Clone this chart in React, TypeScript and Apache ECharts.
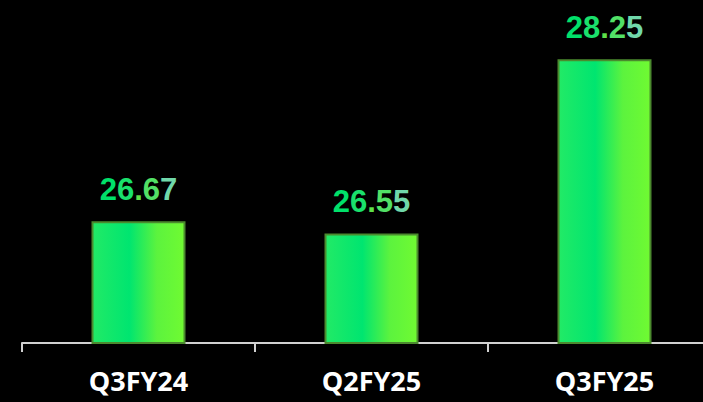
import React, { useEffect, useRef } from "react";
import * as echarts from "echarts";

const categories = ["Q3FY24", "Q2FY25", "Q3FY25"];
const values = [26.67, 26.55, 28.25];

const charColors = ["#00e06a", "#1ae06c", "#5ee04a", "#52e066", "#70d8aa"];

export default function App() {
  const ref = useRef<HTMLDivElement>(null);
  useEffect(() => {
    document.body.style.margin = "0";
    document.body.style.background = "#000";
    document.body.style.overflow = "hidden";
    const chart = echarts.init(ref.current!, null, { renderer: "svg" });
    const barGrad = new echarts.graphic.LinearGradient(0, 0, 1, 0, [
      { offset: 0, color: "#22ea66" },
      { offset: 0.4, color: "#00e570" },
      { offset: 0.7, color: "#5cf33e" },
      { offset: 1, color: "#70fa32" },
    ]);
    const rich: Record<string, any> = {};
    charColors.forEach((c, i) => {
      rich["c" + i] = {
        color: c,
        fontFamily: "Liberation Sans",
        fontWeight: "bold",
        fontSize: 31,
      };
    });
    chart.setOption({
      animation: false,
      backgroundColor: "#000",
      grid: { left: 22, right: 0, top: 3, bottom: 59, containLabel: false },
      xAxis: {
        type: "category",
        data: categories,
        axisLine: { show: true, lineStyle: { color: "#d0d0d0", width: 2 } },
        axisTick: { show: true, length: 9, lineStyle: { color: "#d0d0d0", width: 2 } },
        axisLabel: {
          color: "#ffffff",
          fontFamily: "Open Sans",
          fontWeight: "bold",
          fontSize: 27,
          margin: 24,
        },
      },
      yAxis: {
        type: "value",
        min: 25.48,
        max: 28.8,
        show: false,
        splitLine: { show: false },
      },
      series: [
        {
          type: "bar",
          data: values,
          barWidth: 94,
          itemStyle: {
            color: barGrad,
            borderColor: "#4b8a2e",
            borderWidth: 2,
          },
          label: {
            show: true,
            position: "top",
            distance: 16,
            fontFamily: "Liberation Sans",
            fontWeight: "bold",
            fontSize: 31,
            rich,
            formatter: (p: any) =>
              p.value
                .toFixed(2)
                .split("")
                .map((ch: string, i: number) => `{c${i}|${ch}}`)
                .join(""),
          },
        },
      ],
    });
    return () => chart.dispose();
  }, []);
  return (
    <div style={{ width: 703, height: 402, overflow: "hidden" }}>
      <div ref={ref} style={{ width: 721, height: 402 }} />
    </div>
  );
}
